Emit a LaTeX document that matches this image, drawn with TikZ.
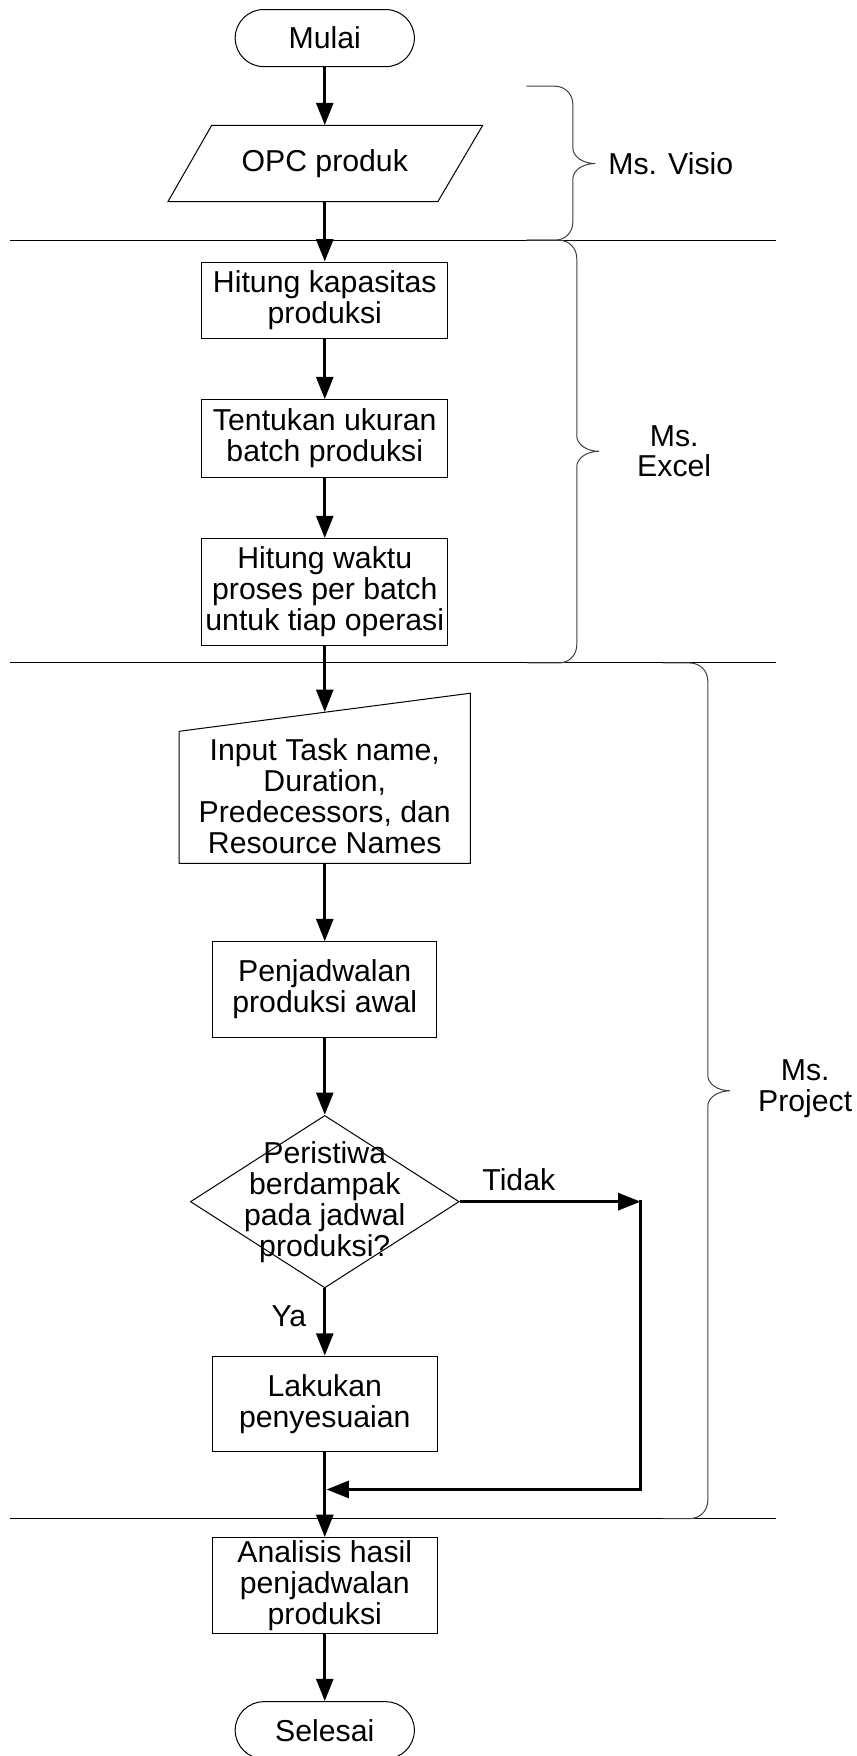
\documentclass[tikz,border=0pt]{standalone}
\usepackage{fontspec}
\setmainfont{Liberation Sans}
\usetikzlibrary{shapes.geometric,arrows.meta}
\newcommand\figfont{\fontsize{27pt}{27.5pt}\selectfont}
\newcommand\mkbrace[5]{% x0, x1, ytop, ymid, ybot
  \draw[bracestyle] (#1,#3) -- ({#2-16},#3) .. controls ({#2-7},#3) and (#2,{#3+7}) .. (#2,{#3+16})
    -- (#2,{#4-14}) .. controls (#2,{#4-6}) and ({#2+9},#4) .. ({#2+20},#4)
    .. controls ({#2+9},#4) and (#2,{#4+6}) .. (#2,{#4+14})
    -- (#2,{#5-16}) .. controls (#2,{#5-7}) and ({#2-7},#5) .. ({#2-16},#5) -- (#1,#5);}
\tikzset{
  base/.style={font=\figfont, inner sep=0pt, align=center},
  term/.style={base, draw, line width=0.9pt, rounded corners=25.5pt, minimum width=160pt, minimum height=51pt},
  proc/.style={base, draw, line width=0.9pt},
  outline/.style={line width=0.9pt, line join=miter},
  flow/.style={line width=3pt, -{Triangle[length=20pt,width=15pt]}},
  sepline/.style={line width=0.9pt},
  bracestyle/.style={line width=0.9pt, draw=black!75},
  lbl/.style={font=\figfont, inner sep=0pt}
}
\begin{document}
\begin{tikzpicture}[x=1pt,y=-1pt]
\useasboundingbox (0,0) rectangle (765,1568);

% separators
\draw[sepline] (9,214.5) -- (693,214.5);
\draw[sepline] (9,592) -- (693,592);
\draw[sepline] (9,1356) -- (693,1356);

% braces
\mkbrace{470}{511.5}{77}{146}{214.5}
\mkbrace{471}{515}{214.5}{403}{592}
\mkbrace{592}{632}{592}{974}{1356}
\node[lbl, anchor=west] (visio) at (543,146) {Ms. Visio};
\node[base] (excel) at (602,403) {Ms.\\Excel};
\node[base] (project) at (719,972) {Ms.\\Project};

% nodes
\node[term] (start) at (290,34) {Mulai};
\node[base, minimum width=242pt, minimum height=68pt] (opc) at (290,146) {OPC produk};
\draw[outline] (189,112) -- (431,112) -- (391,180) -- (150,180) -- cycle;
\node[proc, minimum width=220pt, minimum height=68pt] (hk) at (290,268) {Hitung kapasitas\\produksi};
\node[proc, minimum width=220pt, minimum height=69pt] (tu) at (290,391.5) {Tentukan ukuran\\batch produksi};
\node[proc, minimum width=220pt, minimum height=95pt] (hw) at (290,528.5) {Hitung waktu\\proses per batch\\untuk tiap operasi};
\node[base, minimum width=260pt, minimum height=135pt] (mi) at (290,703.5) {};
\draw[outline] (160,653) -- (420,619) -- (420,771) -- (160,771) -- cycle;
\node[base] (mitxt) at (290,711) {Input Task name,\\Duration,\\Predecessors, dan\\Resource Names};
\node[proc, minimum width=200pt, minimum height=85pt] (pj) at (290,883.5) {Penjadwalan\\produksi awal};
\node[draw, diamond, line width=0.9pt, minimum width=240pt, minimum height=154pt, inner sep=0pt] (dec) at (290,1073) {};
\node[base] (dectxt) at (290,1073.5) {Peristiwa\\berdampak\\pada jadwal\\produksi?};
\node[proc, minimum width=201pt, minimum height=85pt] (lk) at (290,1253.5) {Lakukan\\penyesuaian};
\node[proc, minimum width=201pt, minimum height=86pt] (an) at (290,1416) {Analisis hasil\\penjadwalan\\produksi};
\node[term] (end) at (290,1545) {Selesai};

\coordinate (tr) at (572,1073);
\coordinate (br) at (572,1330);
\coordinate (jn) at (291.5,1330);

% connectors
\draw[flow] (start.south) -- (opc.north);
\draw[flow] (opc.south) -- (hk.north);
\draw[flow] (hk.south) -- (tu.north);
\draw[flow] (tu.south) -- (hw.north);
\draw[flow] (hw.south) -- (mi.north);
\draw[flow] (mi.south) -- (pj.north);
\draw[flow] (pj.south) -- (dec.north);
\draw[flow] (dec.south) -- node[lbl, left=15pt, pos=0.41] {Ya} (lk.north);
\draw[flow] (dec.east) -- node[lbl, above=8pt, pos=0.327] {Tidak} (tr);
\draw[flow] ([yshift=1.5pt]tr) -- (br) -- (jn);
\draw[flow] (lk.south) -- (an.north);
\draw[flow] (an.south) -- (end.north);
\end{tikzpicture}
\end{document}
